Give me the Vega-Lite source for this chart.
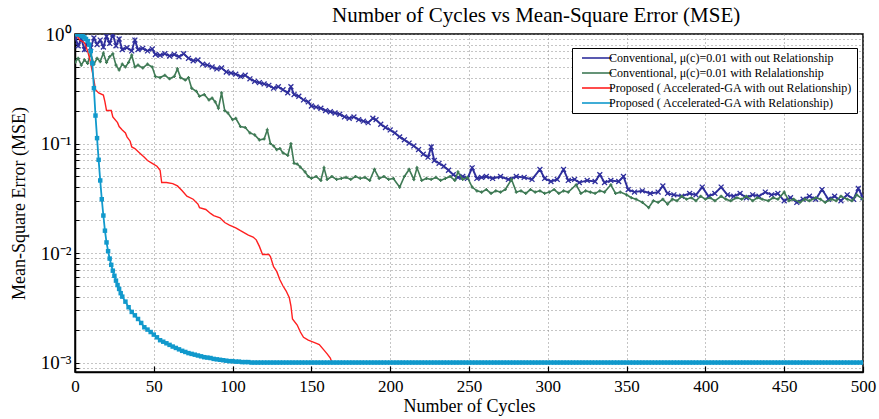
{
"$schema":"https://vega.github.io/schema/vega-lite/v6.json",
"width":788,"height":338,
"autosize":"none",
"padding":{"left":75,"top":34,"right":16,"bottom":47},
"background":"white",
"config":{
 "view":{"stroke":"black","strokeWidth":1.5},
 "axis":{"labelFont":"Liberation Serif","titleFont":"Liberation Serif","labelColor":"black","titleColor":"black","domainColor":"black","domainWidth":1.5,"tickColor":"black","gridColor":"#8a8a8a","gridDash":[1,3],"gridWidth":1,"titleFontWeight":"normal","labelFontSize":17,"titleFontSize":18},
 "legend":{"labelFont":"Liberation Serif","labelFontSize":12,"labelColor":"black","symbolType":"M-3,0L3,0","symbolSize":100,"symbolStrokeWidth":1.6,"symbolOffset":15,"labelOffset":6,"strokeColor":"black","fillColor":"white","padding":4,"labelLimit":400,"rowPadding":3}
},
"title":{"text":"Number of Cycles vs Mean-Square Error (MSE)","font":"Liberation Serif","fontSize":21,"fontWeight":"normal","color":"black","anchor":"start","frame":"group","dx":257,"offset":-1},
"datasets":{
"blue":[{"x":0,"y":0.95},{"x":2,"y":0.78},{"x":4,"y":0.9},{"x":6,"y":0.72},{"x":8,"y":0.85},{"x":10,"y":0.75},{"x":12,"y":0.92},{"x":14,"y":0.8},{"x":16,"y":0.88},{"x":18,"y":0.76},{"x":20,"y":0.95},{"x":22,"y":0.82},{"x":24,"y":1.0},{"x":26,"y":0.78},{"x":28,"y":0.9},{"x":30,"y":0.72},{"x":33,"y":0.75},{"x":36,"y":0.7},{"x":38,"y":0.88},{"x":40,"y":0.72},{"x":43,"y":0.74},{"x":46,"y":0.7},{"x":49,"y":0.73},{"x":51,"y":0.65},{"x":54,"y":0.64},{"x":57,"y":0.66},{"x":60,"y":0.63},{"x":63,"y":0.65},{"x":66,"y":0.62},{"x":69,"y":0.66},{"x":72,"y":0.6},{"x":75,"y":0.57},{"x":78,"y":0.58},{"x":81,"y":0.53},{"x":84,"y":0.52},{"x":87,"y":0.5},{"x":90,"y":0.48},{"x":93,"y":0.49},{"x":96,"y":0.45},{"x":99,"y":0.44},{"x":102,"y":0.43},{"x":105,"y":0.41},{"x":108,"y":0.42},{"x":111,"y":0.39},{"x":114,"y":0.37},{"x":117,"y":0.36},{"x":120,"y":0.35},{"x":123,"y":0.34},{"x":126,"y":0.32},{"x":129,"y":0.33},{"x":132,"y":0.31},{"x":135,"y":0.29},{"x":137,"y":0.33},{"x":139,"y":0.28},{"x":142,"y":0.27},{"x":145,"y":0.25},{"x":148,"y":0.24},{"x":150,"y":0.22},{"x":153,"y":0.215},{"x":156,"y":0.21},{"x":159,"y":0.2},{"x":162,"y":0.195},{"x":165,"y":0.19},{"x":168,"y":0.185},{"x":171,"y":0.175},{"x":174,"y":0.17},{"x":177,"y":0.175},{"x":180,"y":0.165},{"x":183,"y":0.16},{"x":186,"y":0.155},{"x":189,"y":0.17},{"x":191,"y":0.165},{"x":194,"y":0.15},{"x":197,"y":0.14},{"x":200,"y":0.133},{"x":203,"y":0.125},{"x":206,"y":0.115},{"x":209,"y":0.108},{"x":212,"y":0.101},{"x":215,"y":0.095},{"x":218,"y":0.088},{"x":221,"y":0.08},{"x":224,"y":0.075},{"x":226,"y":0.093},{"x":228,"y":0.07},{"x":231,"y":0.066},{"x":234,"y":0.062},{"x":237,"y":0.057},{"x":240,"y":0.052},{"x":243,"y":0.049},{"x":246,"y":0.05},{"x":249,"y":0.048},{"x":252,"y":0.06},{"x":255,"y":0.048},{"x":258,"y":0.049},{"x":261,"y":0.05},{"x":265,"y":0.048},{"x":270,"y":0.05},{"x":275,"y":0.047},{"x":280,"y":0.05},{"x":285,"y":0.049},{"x":290,"y":0.047},{"x":295,"y":0.058},{"x":298,"y":0.048},{"x":302,"y":0.045},{"x":306,"y":0.047},{"x":310,"y":0.058},{"x":313,"y":0.046},{"x":317,"y":0.047},{"x":320,"y":0.044},{"x":325,"y":0.046},{"x":330,"y":0.045},{"x":333,"y":0.052},{"x":336,"y":0.044},{"x":340,"y":0.046},{"x":345,"y":0.045},{"x":348,"y":0.05},{"x":351,"y":0.038},{"x":355,"y":0.036},{"x":360,"y":0.037},{"x":365,"y":0.035},{"x":370,"y":0.036},{"x":373,"y":0.041},{"x":376,"y":0.035},{"x":380,"y":0.034},{"x":385,"y":0.033},{"x":390,"y":0.035},{"x":394,"y":0.034},{"x":398,"y":0.04},{"x":402,"y":0.033},{"x":406,"y":0.035},{"x":410,"y":0.04},{"x":414,"y":0.034},{"x":418,"y":0.033},{"x":422,"y":0.035},{"x":426,"y":0.032},{"x":430,"y":0.034},{"x":434,"y":0.033},{"x":438,"y":0.036},{"x":442,"y":0.034},{"x":446,"y":0.035},{"x":450,"y":0.03},{"x":454,"y":0.032},{"x":458,"y":0.029},{"x":462,"y":0.031},{"x":466,"y":0.033},{"x":470,"y":0.031},{"x":474,"y":0.038},{"x":478,"y":0.031},{"x":482,"y":0.033},{"x":486,"y":0.03},{"x":490,"y":0.034},{"x":494,"y":0.031},{"x":497,"y":0.039},{"x":500,"y":0.032}],
"green":[{"x":0,"y":0.55},{"x":2,"y":0.6},{"x":4,"y":0.52},{"x":6,"y":0.58},{"x":8,"y":0.54},{"x":10,"y":0.66},{"x":12,"y":0.53},{"x":14,"y":0.6},{"x":16,"y":0.56},{"x":18,"y":0.67},{"x":20,"y":0.55},{"x":22,"y":0.62},{"x":24,"y":0.66},{"x":26,"y":0.52},{"x":28,"y":0.47},{"x":30,"y":0.53},{"x":32,"y":0.5},{"x":34,"y":0.55},{"x":36,"y":0.64},{"x":38,"y":0.5},{"x":40,"y":0.52},{"x":43,"y":0.49},{"x":46,"y":0.53},{"x":49,"y":0.5},{"x":51,"y":0.41},{"x":54,"y":0.4},{"x":57,"y":0.42},{"x":60,"y":0.39},{"x":63,"y":0.41},{"x":65,"y":0.48},{"x":67,"y":0.4},{"x":70,"y":0.38},{"x":72,"y":0.4},{"x":74,"y":0.32},{"x":77,"y":0.3},{"x":79,"y":0.27},{"x":82,"y":0.28},{"x":85,"y":0.25},{"x":87,"y":0.26},{"x":89,"y":0.24},{"x":91,"y":0.21},{"x":93,"y":0.29},{"x":95,"y":0.2},{"x":97,"y":0.19},{"x":100,"y":0.165},{"x":102,"y":0.17},{"x":105,"y":0.143},{"x":108,"y":0.14},{"x":111,"y":0.125},{"x":114,"y":0.12},{"x":117,"y":0.108},{"x":120,"y":0.11},{"x":122,"y":0.133},{"x":124,"y":0.1},{"x":126,"y":0.095},{"x":128,"y":0.088},{"x":130,"y":0.09},{"x":132,"y":0.082},{"x":135,"y":0.078},{"x":137,"y":0.1},{"x":139,"y":0.066},{"x":141,"y":0.065},{"x":143,"y":0.061},{"x":146,"y":0.055},{"x":148,"y":0.05},{"x":150,"y":0.048},{"x":153,"y":0.05},{"x":156,"y":0.046},{"x":158,"y":0.06},{"x":160,"y":0.047},{"x":163,"y":0.05},{"x":166,"y":0.047},{"x":169,"y":0.048},{"x":172,"y":0.049},{"x":175,"y":0.047},{"x":178,"y":0.05},{"x":181,"y":0.048},{"x":184,"y":0.049},{"x":187,"y":0.046},{"x":190,"y":0.058},{"x":193,"y":0.048},{"x":196,"y":0.05},{"x":199,"y":0.047},{"x":202,"y":0.048},{"x":206,"y":0.04},{"x":209,"y":0.05},{"x":212,"y":0.058},{"x":215,"y":0.047},{"x":217,"y":0.06},{"x":220,"y":0.046},{"x":223,"y":0.048},{"x":226,"y":0.047},{"x":229,"y":0.049},{"x":232,"y":0.046},{"x":235,"y":0.048},{"x":238,"y":0.05},{"x":241,"y":0.046},{"x":243,"y":0.055},{"x":246,"y":0.047},{"x":249,"y":0.049},{"x":252,"y":0.04},{"x":255,"y":0.037},{"x":258,"y":0.036},{"x":261,"y":0.038},{"x":264,"y":0.035},{"x":267,"y":0.037},{"x":270,"y":0.036},{"x":273,"y":0.038},{"x":277,"y":0.047},{"x":280,"y":0.036},{"x":283,"y":0.037},{"x":286,"y":0.035},{"x":289,"y":0.038},{"x":292,"y":0.036},{"x":295,"y":0.037},{"x":298,"y":0.035},{"x":301,"y":0.036},{"x":304,"y":0.038},{"x":307,"y":0.035},{"x":310,"y":0.037},{"x":313,"y":0.036},{"x":318,"y":0.042},{"x":321,"y":0.035},{"x":324,"y":0.037},{"x":327,"y":0.036},{"x":330,"y":0.035},{"x":333,"y":0.037},{"x":336,"y":0.036},{"x":340,"y":0.042},{"x":343,"y":0.035},{"x":346,"y":0.036},{"x":350,"y":0.034},{"x":353,"y":0.032},{"x":356,"y":0.031},{"x":360,"y":0.029},{"x":364,"y":0.026},{"x":367,"y":0.03},{"x":370,"y":0.029},{"x":373,"y":0.031},{"x":376,"y":0.028},{"x":379,"y":0.031},{"x":382,"y":0.03},{"x":385,"y":0.033},{"x":388,"y":0.031},{"x":391,"y":0.032},{"x":394,"y":0.03},{"x":397,"y":0.033},{"x":400,"y":0.031},{"x":403,"y":0.032},{"x":406,"y":0.03},{"x":410,"y":0.033},{"x":413,"y":0.031},{"x":416,"y":0.03},{"x":420,"y":0.032},{"x":423,"y":0.031},{"x":426,"y":0.033},{"x":430,"y":0.03},{"x":433,"y":0.032},{"x":436,"y":0.031},{"x":440,"y":0.03},{"x":443,"y":0.032},{"x":446,"y":0.031},{"x":450,"y":0.036},{"x":453,"y":0.03},{"x":456,"y":0.031},{"x":460,"y":0.029},{"x":463,"y":0.031},{"x":466,"y":0.03},{"x":470,"y":0.032},{"x":473,"y":0.031},{"x":476,"y":0.029},{"x":480,"y":0.031},{"x":483,"y":0.03},{"x":486,"y":0.033},{"x":490,"y":0.031},{"x":493,"y":0.03},{"x":496,"y":0.034},{"x":500,"y":0.031}],
"red":[{"x":0,"y":1.0},{"x":2,"y":0.93},{"x":3,"y":0.88},{"x":5,"y":0.85},{"x":6,"y":0.83},{"x":8,"y":0.7},{"x":9.5,"y":0.58},{"x":11,"y":0.45},{"x":12,"y":0.38},{"x":13,"y":0.31},{"x":15,"y":0.29},{"x":18,"y":0.277},{"x":19,"y":0.24},{"x":20,"y":0.2},{"x":23,"y":0.2},{"x":24,"y":0.175},{"x":27,"y":0.155},{"x":28,"y":0.143},{"x":30,"y":0.133},{"x":32,"y":0.125},{"x":33,"y":0.115},{"x":35,"y":0.105},{"x":36,"y":0.093},{"x":38,"y":0.09},{"x":41,"y":0.082},{"x":44,"y":0.075},{"x":46,"y":0.07},{"x":49,"y":0.066},{"x":52,"y":0.062},{"x":54,"y":0.057},{"x":55,"y":0.044},{"x":58,"y":0.044},{"x":62,"y":0.043},{"x":65,"y":0.041},{"x":68,"y":0.037},{"x":71,"y":0.033},{"x":75,"y":0.031},{"x":78,"y":0.028},{"x":79,"y":0.026},{"x":83,"y":0.025},{"x":86,"y":0.023},{"x":88,"y":0.022},{"x":92,"y":0.021},{"x":95,"y":0.019},{"x":98,"y":0.018},{"x":102,"y":0.017},{"x":105,"y":0.016},{"x":110,"y":0.0146},{"x":113,"y":0.014},{"x":115,"y":0.0132},{"x":117,"y":0.0115},{"x":119,"y":0.0097},{"x":123,"y":0.0097},{"x":124,"y":0.0093},{"x":126,"y":0.0075},{"x":128,"y":0.0068},{"x":130,"y":0.0057},{"x":132,"y":0.005},{"x":134,"y":0.0045},{"x":136,"y":0.0039},{"x":137,"y":0.0033},{"x":138,"y":0.0025},{"x":141,"y":0.0022},{"x":143,"y":0.0019},{"x":145,"y":0.0017},{"x":148,"y":0.0016},{"x":152,"y":0.00152},{"x":155,"y":0.00146},{"x":158,"y":0.0013},{"x":160,"y":0.0012},{"x":162,"y":0.0011},{"x":163,"y":0.001},{"x":500,"y":0.001}],
"cyan":[{"x":0,"y":1.0},{"x":1,"y":1.0},{"x":2,"y":0.995},{"x":3,"y":0.985},{"x":4,"y":0.97},{"x":5,"y":0.95},{"x":6,"y":0.93},{"x":7,"y":0.9},{"x":8,"y":0.86},{"x":9,"y":0.8},{"x":10,"y":0.7},{"x":11,"y":0.54},{"x":12,"y":0.32},{"x":13,"y":0.18},{"x":14,"y":0.112},{"x":15,"y":0.071},{"x":16,"y":0.046},{"x":17,"y":0.031},{"x":18,"y":0.022},{"x":19,"y":0.016},{"x":20,"y":0.0125},{"x":21,"y":0.0104},{"x":22,"y":0.0089},{"x":23,"y":0.0078},{"x":24,"y":0.0069},{"x":25,"y":0.0062},{"x":26,"y":0.0056},{"x":27,"y":0.0051},{"x":28,"y":0.0047},{"x":29,"y":0.0043},{"x":30,"y":0.004},{"x":32,"y":0.0036},{"x":34,"y":0.0032},{"x":36,"y":0.0029},{"x":38,"y":0.0027},{"x":40,"y":0.0025},{"x":42,"y":0.0023},{"x":44,"y":0.0021},{"x":46,"y":0.002},{"x":48,"y":0.0019},{"x":50,"y":0.0018},{"x":52,"y":0.0017},{"x":54,"y":0.0016},{"x":56,"y":0.00155},{"x":58,"y":0.0015},{"x":60,"y":0.00145},{"x":62,"y":0.0014},{"x":64,"y":0.00136},{"x":66,"y":0.00132},{"x":68,"y":0.00128},{"x":70,"y":0.00125},{"x":72,"y":0.00122},{"x":74,"y":0.0012},{"x":76,"y":0.00118},{"x":78,"y":0.00116},{"x":80,"y":0.00114},{"x":82,"y":0.00112},{"x":84,"y":0.00111},{"x":86,"y":0.0011},{"x":88,"y":0.00108},{"x":90,"y":0.00107},{"x":92,"y":0.00106},{"x":94,"y":0.00105},{"x":96,"y":0.00104},{"x":98,"y":0.00103},{"x":100,"y":0.00103},{"x":102,"y":0.00102},{"x":104,"y":0.00102},{"x":106,"y":0.00101},{"x":108,"y":0.00101},{"x":110,"y":0.00101},{"x":112,"y":0.001},{"x":114,"y":0.001},{"x":116,"y":0.001},{"x":118,"y":0.001},{"x":120,"y":0.001},{"x":122,"y":0.001},{"x":124,"y":0.001},{"x":126,"y":0.001},{"x":128,"y":0.001},{"x":130,"y":0.001},{"x":132,"y":0.001},{"x":134,"y":0.001},{"x":136,"y":0.001},{"x":138,"y":0.001},{"x":140,"y":0.001},{"x":142,"y":0.001},{"x":144,"y":0.001},{"x":146,"y":0.001},{"x":148,"y":0.001},{"x":150,"y":0.001},{"x":152,"y":0.001},{"x":154,"y":0.001},{"x":156,"y":0.001},{"x":158,"y":0.001},{"x":160,"y":0.001},{"x":162,"y":0.001},{"x":164,"y":0.001},{"x":166,"y":0.001},{"x":168,"y":0.001},{"x":170,"y":0.001},{"x":172,"y":0.001},{"x":174,"y":0.001},{"x":176,"y":0.001},{"x":178,"y":0.001},{"x":180,"y":0.001},{"x":182,"y":0.001},{"x":184,"y":0.001},{"x":186,"y":0.001},{"x":188,"y":0.001},{"x":190,"y":0.001},{"x":192,"y":0.001},{"x":194,"y":0.001},{"x":196,"y":0.001},{"x":198,"y":0.001},{"x":200,"y":0.001},{"x":202,"y":0.001},{"x":204,"y":0.001},{"x":206,"y":0.001},{"x":208,"y":0.001},{"x":210,"y":0.001},{"x":212,"y":0.001},{"x":214,"y":0.001},{"x":216,"y":0.001},{"x":218,"y":0.001},{"x":220,"y":0.001},{"x":222,"y":0.001},{"x":224,"y":0.001},{"x":226,"y":0.001},{"x":228,"y":0.001},{"x":230,"y":0.001},{"x":232,"y":0.001},{"x":234,"y":0.001},{"x":236,"y":0.001},{"x":238,"y":0.001},{"x":240,"y":0.001},{"x":242,"y":0.001},{"x":244,"y":0.001},{"x":246,"y":0.001},{"x":248,"y":0.001},{"x":250,"y":0.001},{"x":252,"y":0.001},{"x":254,"y":0.001},{"x":256,"y":0.001},{"x":258,"y":0.001},{"x":260,"y":0.001},{"x":262,"y":0.001},{"x":264,"y":0.001},{"x":266,"y":0.001},{"x":268,"y":0.001},{"x":270,"y":0.001},{"x":272,"y":0.001},{"x":274,"y":0.001},{"x":276,"y":0.001},{"x":278,"y":0.001},{"x":280,"y":0.001},{"x":282,"y":0.001},{"x":284,"y":0.001},{"x":286,"y":0.001},{"x":288,"y":0.001},{"x":290,"y":0.001},{"x":292,"y":0.001},{"x":294,"y":0.001},{"x":296,"y":0.001},{"x":298,"y":0.001},{"x":300,"y":0.001},{"x":302,"y":0.001},{"x":304,"y":0.001},{"x":306,"y":0.001},{"x":308,"y":0.001},{"x":310,"y":0.001},{"x":312,"y":0.001},{"x":314,"y":0.001},{"x":316,"y":0.001},{"x":318,"y":0.001},{"x":320,"y":0.001},{"x":322,"y":0.001},{"x":324,"y":0.001},{"x":326,"y":0.001},{"x":328,"y":0.001},{"x":330,"y":0.001},{"x":332,"y":0.001},{"x":334,"y":0.001},{"x":336,"y":0.001},{"x":338,"y":0.001},{"x":340,"y":0.001},{"x":342,"y":0.001},{"x":344,"y":0.001},{"x":346,"y":0.001},{"x":348,"y":0.001},{"x":350,"y":0.001},{"x":352,"y":0.001},{"x":354,"y":0.001},{"x":356,"y":0.001},{"x":358,"y":0.001},{"x":360,"y":0.001},{"x":362,"y":0.001},{"x":364,"y":0.001},{"x":366,"y":0.001},{"x":368,"y":0.001},{"x":370,"y":0.001},{"x":372,"y":0.001},{"x":374,"y":0.001},{"x":376,"y":0.001},{"x":378,"y":0.001},{"x":380,"y":0.001},{"x":382,"y":0.001},{"x":384,"y":0.001},{"x":386,"y":0.001},{"x":388,"y":0.001},{"x":390,"y":0.001},{"x":392,"y":0.001},{"x":394,"y":0.001},{"x":396,"y":0.001},{"x":398,"y":0.001},{"x":400,"y":0.001},{"x":402,"y":0.001},{"x":404,"y":0.001},{"x":406,"y":0.001},{"x":408,"y":0.001},{"x":410,"y":0.001},{"x":412,"y":0.001},{"x":414,"y":0.001},{"x":416,"y":0.001},{"x":418,"y":0.001},{"x":420,"y":0.001},{"x":422,"y":0.001},{"x":424,"y":0.001},{"x":426,"y":0.001},{"x":428,"y":0.001},{"x":430,"y":0.001},{"x":432,"y":0.001},{"x":434,"y":0.001},{"x":436,"y":0.001},{"x":438,"y":0.001},{"x":440,"y":0.001},{"x":442,"y":0.001},{"x":444,"y":0.001},{"x":446,"y":0.001},{"x":448,"y":0.001},{"x":450,"y":0.001},{"x":452,"y":0.001},{"x":454,"y":0.001},{"x":456,"y":0.001},{"x":458,"y":0.001},{"x":460,"y":0.001},{"x":462,"y":0.001},{"x":464,"y":0.001},{"x":466,"y":0.001},{"x":468,"y":0.001},{"x":470,"y":0.001},{"x":472,"y":0.001},{"x":474,"y":0.001},{"x":476,"y":0.001},{"x":478,"y":0.001},{"x":480,"y":0.001},{"x":482,"y":0.001},{"x":484,"y":0.001},{"x":486,"y":0.001},{"x":488,"y":0.001},{"x":490,"y":0.001},{"x":492,"y":0.001},{"x":494,"y":0.001},{"x":496,"y":0.001},{"x":498,"y":0.001},{"x":500,"y":0.001}]
},
"encoding":{
 "x":{"field":"x","type":"quantitative","title":"Number of Cycles","scale":{"domain":[0,500],"nice":false,"zero":false},
  "axis":{"values":[0,50,100,150,200,250,300,350,400,450,500],"grid":true,"tickSize":-6,"tickWidth":1.2,"labelPadding":12,"titlePadding":3,"labelFlush":false}},
 "y":{"field":"y","type":"quantitative","title":"Mean-Square Error (MSE)","scale":{"type":"log","domain":[0.00082,1],"nice":false},
  "axis":{"values":[0.0009,0.001,0.002,0.003,0.004,0.005,0.006,0.007,0.008,0.009,0.01,0.02,0.03,0.04,0.05,0.06,0.07,0.08,0.09,0.1,0.2,0.3,0.4,0.5,0.6,0.7,0.8,0.9,1],"grid":true,"tickSize":-4,"tickWidth":1,"labelPadding":8,"titlePadding":12,"labelFontSize":19,"labelFlush":false,"labelOverlap":false,
   "labelExpr":"datum.value===1?'10⁰':datum.value===0.1?'10⁻¹':datum.value===0.01?'10⁻²':datum.value===0.001?'10⁻³':''"}}
},
"layer":[
 {"data":{"name":"blue"},"mark":{"type":"line","strokeWidth":1.9,"color":"#2f2f9c","clip":true},
  "encoding":{"color":{"datum":"Conventional, μ(c)=0.01 with out Relationship","type":"nominal",
   "scale":{"domain":["Conventional, μ(c)=0.01 with out Relationship","Conventional, μ(c)=0.01 with Relalationship","Proposed ( Accelerated-GA with out Relationship)","Proposed ( Accelerated-GA with Relationship)"],"range":["#2f2f9c","#3f7a55","#ff2020","#1199cc"]},
   "legend":{"title":null,"orient":"none","legendX":497,"legendY":14}}}},
 {"data":{"name":"blue"},"mark":{"type":"point","shape":"M-1,-1L1,1M-1,1L1,-1","size":24,"filled":false,"strokeWidth":1.3,"color":"#2f2f9c","opacity":1,"clip":true}},
 {"data":{"name":"green"},"mark":{"type":"line","strokeWidth":1.6,"color":"#3f7a55","clip":true},
  "encoding":{"color":{"datum":"Conventional, μ(c)=0.01 with Relalationship","type":"nominal"}}},
 {"data":{"name":"green"},"mark":{"type":"point","shape":"cross","size":10,"filled":true,"color":"#3f7a55","opacity":1,"clip":true}},
 {"data":{"name":"red"},"mark":{"type":"line","strokeWidth":1.4,"color":"#ff2020","clip":true},
  "encoding":{"color":{"datum":"Proposed ( Accelerated-GA with out Relationship)","type":"nominal"}}},
 {"data":{"name":"cyan"},"mark":{"type":"line","strokeWidth":1.8,"color":"#1199cc","clip":true},
  "encoding":{"color":{"datum":"Proposed ( Accelerated-GA with Relationship)","type":"nominal"}}},
 {"data":{"name":"cyan"},"mark":{"type":"point","shape":"square","size":20,"filled":true,"color":"#1199cc","opacity":1,"clip":true}}
]
}
